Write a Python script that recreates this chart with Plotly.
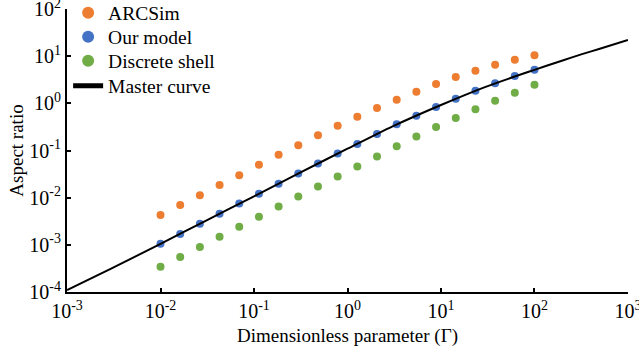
import plotly.graph_objects as go

# x positions (Gamma), log-spaced from 0.01 to 100
gamma = [0.01, 0.01624, 0.02637, 0.04281, 0.06952, 0.1129, 0.1833, 0.2976,
         0.4833, 0.7848, 1.274, 2.069, 3.360, 5.456, 8.859, 14.38, 23.36,
         37.93, 61.58, 100.0]

arcsim = [4.29e-3, 6.97e-3, 1.13e-2, 1.85e-2, 3.0e-2, 4.96e-2, 8.08e-2, 0.129,
          0.211, 0.336, 0.521, 0.80, 1.19, 1.76, 2.56, 3.60, 4.89, 6.55, 8.36, 10.5]

our_model = [1.05e-3, 1.70e-3, 2.81e-3, 4.57e-3, 7.54e-3, 1.21e-2, 1.97e-2,
             3.25e-2, 5.29e-2, 8.59e-2, 0.138, 0.224, 0.360, 0.547, 0.836,
             1.25, 1.85, 2.68, 3.78, 5.13]

discrete_shell = [3.41e-4, 5.55e-4, 9.03e-4, 1.49e-3, 2.43e-3, 3.94e-3, 6.52e-3,
                  1.06e-2, 1.72e-2, 2.81e-2, 4.57e-2, 7.43e-2, 0.123, 0.197,
                  0.316, 0.489, 0.746, 1.14, 1.67, 2.47]

master_x = [0.001, 0.003, 0.01, 0.03, 0.1, 0.3, 1.0, 3.0, 10.0, 30.0, 100.0,
            200.0, 316.0, 500.0, 1000.0]
master_y = [1.1e-4, 3.17e-4, 1.05e-3, 3.19e-3, 1.07e-2, 3.28e-2, 0.109, 0.322,
            0.924, 2.24, 5.13, 8.1, 10.9, 14.4, 22.0]

x_tickvals = [1e-3, 1e-2, 1e-1, 1e0, 1e1, 1e2, 1e3]
x_ticktext = ["10<sup>-3</sup>", "10<sup>-2</sup>", "10<sup>-1</sup>", "10<sup>0</sup>",
              "10<sup>1</sup>", "10<sup>2</sup>", "10<sup>3</sup>"]
y_tickvals = [1e-4, 1e-3, 1e-2, 1e-1, 1e0, 1e1, 1e2]
y_ticktext = ["10<sup>-4</sup>", "10<sup>-3</sup>", "10<sup>-2</sup>", "10<sup>-1</sup>",
              "10<sup>0</sup>", "10<sup>1</sup>", "10<sup>2</sup>"]

FONT = "Liberation Serif, Times New Roman, serif"
H = 355.0

fig = go.Figure()
fig.add_trace(go.Scatter(x=gamma, y=arcsim, mode="markers", name="ARCSim",
                         marker=dict(color="#ED7D31", size=8), legend="legend"))
fig.add_trace(go.Scatter(x=gamma, y=our_model, mode="markers", name="Our model",
                         marker=dict(color="#4472C4", size=8), legend="legend2"))
fig.add_trace(go.Scatter(x=gamma, y=discrete_shell, mode="markers", name="Discrete shell",
                         marker=dict(color="#70AD47", size=8), legend="legend3"))
fig.add_trace(go.Scatter(x=master_x, y=master_y, mode="lines", name="Master curve",
                         line=dict(color="black", width=2, shape="spline", smoothing=0.8),
                         legend="legend4"))


def leg(yc):
    return dict(x=0.002, y=1 - yc / H, xanchor="left", yanchor="middle",
                xref="paper", yref="container",
                bgcolor="rgba(0,0,0,0)", font=dict(size=19.5, family=FONT),
                itemsizing="constant")


fig.update_layout(
    width=639, height=355,
    margin=dict(l=67, r=11, t=9, b=63, autoexpand=False),
    paper_bgcolor="white", plot_bgcolor="white",
    font=dict(family=FONT, color="black", size=19),
    showlegend=True,
    legend=leg(13), legend2=leg(37), legend3=leg(61), legend4=leg(86),
)
fig.update_xaxes(type="log", range=[-3.0003, 3.0003], showgrid=False, zeroline=False,
                 showline=True, linecolor="black", linewidth=2,
                 ticks="inside", ticklen=4, tickwidth=2, tickcolor="black",
                 tickvals=x_tickvals, ticktext=x_ticktext, ticklabeloverflow="allow",
                 tickfont=dict(size=20, family=FONT), automargin=False,
                 title=dict(text="Dimensionless parameter (Γ)", font=dict(size=19, family=FONT),
                            standoff=8))
fig.update_yaxes(type="log", range=[-4.0003, 2.0003], showgrid=False, zeroline=False,
                 showline=True, linecolor="black", linewidth=2,
                 ticks="inside", ticklen=4, tickwidth=2, tickcolor="black",
                 tickvals=y_tickvals, ticktext=y_ticktext, ticklabeloverflow="allow",
                 tickfont=dict(size=20, family=FONT), automargin=False,
                 title=dict(text="Aspect ratio", font=dict(size=19, family=FONT),
                            standoff=1))

fig.write_html("out.html")
